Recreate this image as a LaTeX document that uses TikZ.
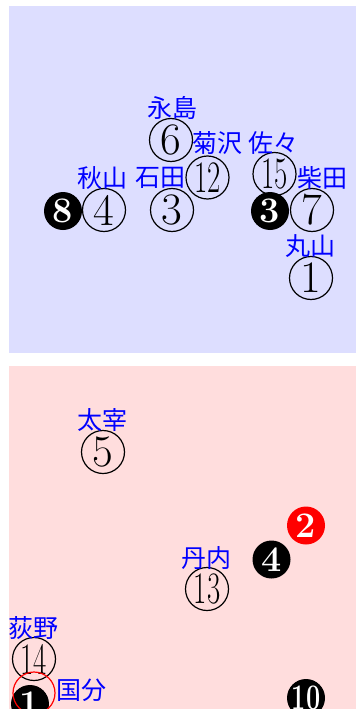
\documentclass[tikz,border=0pt]{standalone}
\usepackage{fontspec}
\newfontfamily\jpfont{Noto Sans CJK JP}
\definecolor{panelblue}{HTML}{DDDEFF}
\definecolor{panelpink}{HTML}{FFDDDD}
\begin{document}
\begin{tikzpicture}[x=1pt,y=-1pt,
  wc/.style={circle, draw=black, line width=1.2pt, minimum size=43pt, inner sep=0pt, font=\fontsize{45}{45}\selectfont},
  bc/.style={circle, fill=black, minimum size=38pt, inner sep=0pt, text=white, font=\fontsize{36}{36}\selectfont\bfseries},
  rc/.style={bc, fill=red},
  ring/.style={circle, draw=red, line width=1.2pt, minimum size=42pt, inner sep=0pt},
  lab/.style={text=blue, inner sep=0pt, font=\jpfont\fontsize{25}{25}\selectfont},
  narrow/.style={}]
\useasboundingbox (0,0) rectangle (356,709);
\fill[panelblue] (9,6) rectangle (356,353);
\fill[panelpink] (9,366) rectangle (356,709);
\begin{scope}
\clip (0,0) rectangle (356,709);
% top panel
\node[wc] (n6) at (171,140) {6};
\node[wc] (n12) at (207.5,177.5) {\scalebox{0.64}[1]{12}};
\node[wc] (n15) at (274.5,174) {\scalebox{0.64}[1]{15}};
\node[bc] (b8) at (63,211) {8};
\node[wc] (n4) at (104,210) {4};
\node[wc] (n3) at (172,210) {3};
\node[bc] (b3) at (270,211) {3};
\node[wc] (n7) at (312,210) {7};
\node[wc] (n1) at (311,278) {1};
% bottom panel
\node[wc] (n5) at (103,452) {5};
\node[rc] (r2) at (306,525.5) {2};
\node[bc] (b4) at (271.5,559.5) {4};
\node[wc] (n13) at (207,589) {\scalebox{0.64}[1]{13}};
\node[wc] (n14) at (34,659) {\scalebox{0.64}[1]{14}};
\node[bc] (b1) at (30,704) {1};
\node[ring] (r1) at (34,693) {};
\node[bc] (b10) at (306,698) {\scalebox{0.7}[1]{10}};
% labels
\node[lab] (l6) at (172,108) {永島};
\node[lab] (l12) at (217,143) {菊沢};
\node[lab] (l15) at (273,143) {佐々};
\node[lab] (l4) at (102,178) {秋山};
\node[lab] (l3) at (160,178) {石田};
\node[lab] (l7) at (322,178) {柴田};
\node[lab] (l1) at (310,246) {丸山};
\node[lab] (l5) at (102,420) {太宰};
\node[lab] (l13) at (206,558) {丹内};
\node[lab] (l14) at (34,628) {荻野};
\node[lab] (lk) at (81,690) {国分};
\end{scope}
\end{tikzpicture}
\end{document}
